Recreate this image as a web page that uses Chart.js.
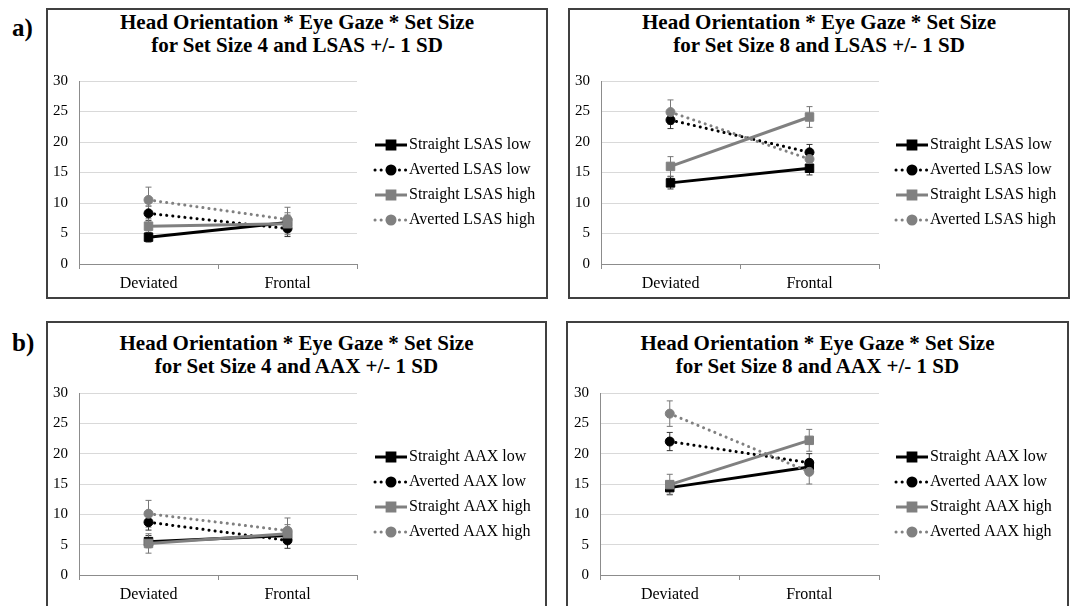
<!DOCTYPE html>
<html>
<head>
<meta charset="utf-8">
<script src="https://cdn.jsdelivr.net/npm/chart.js@4.4.1/dist/chart.umd.min.js"></script>
<style>
  html, body { margin: 0; padding: 0; background: #fff; width: 1073px; height: 606px; overflow: hidden; }
  .box { position: absolute; border: 2px solid #404040; box-sizing: border-box; }
  .box canvas { position: absolute; left: 0; top: 0; }
  .title { position: absolute; left: 0; width: 100%; text-align: center; font: bold 21px "Liberation Serif", serif; line-height: 23px; color: #000; }
  .tag { position: absolute; left: 12px; font: bold 25px "Liberation Serif", serif; line-height: 25px; color: #000; }
</style>
</head>
<body>
<div class="tag" style="top:15px">a)</div>
<div class="tag" style="top:330px">b)</div>

<div class="box" style="left:46px;top:8px;width:502px;height:291px">
  <div class="title" style="top:1px">Head Orientation * Eye Gaze * Set Size<br>for Set Size 4 and LSAS +/- 1 SD</div>
  <canvas id="c1"></canvas>
</div>
<div class="box" style="left:568px;top:8px;width:502px;height:291px">
  <div class="title" style="top:1px">Head Orientation * Eye Gaze * Set Size<br>for Set Size 8 and LSAS +/- 1 SD</div>
  <canvas id="c2"></canvas>
</div>
<div class="box" style="left:46px;top:321px;width:501px;height:300px">
  <div class="title" style="top:9px">Head Orientation * Eye Gaze * Set Size<br>for Set Size 4 and AAX +/- 1 SD</div>
  <canvas id="c3"></canvas>
</div>
<div class="box" style="left:566px;top:321px;width:503px;height:300px">
  <div class="title" style="top:9px">Head Orientation * Eye Gaze * Set Size<br>for Set Size 8 and AAX +/- 1 SD</div>
  <canvas id="c4"></canvas>
</div>

<script>
const categories = ['Deviated', 'Frontal'];
const seriesGaze = ['Straight', 'Averted', 'Straight', 'Averted'];
const seriesLevel = ['low', 'low', 'high', 'high'];
const seriesColors = ['#000000', '#000000', '#808080', '#808080'];
const yMin = 0, yMax = 30, yStep = 5;

// means per series: [Deviated, Frontal]
const lsas4Means = [[4.4, 6.8], [8.3, 5.8], [6.2, 6.6], [10.5, 7.3]];
const lsas4Errors = [[0.8, 1.2], [1.2, 1.3], [1.2, 1.8], [2.1, 2.0]];

const lsas8Means = [[13.3, 15.7], [23.6, 18.3], [16.0, 24.1], [24.9, 17.2]];
const lsas8Errors = [[1.0, 1.1], [1.4, 1.3], [1.6, 1.7], [2.0, 1.5]];

const aax4Means = [[5.5, 6.5], [8.7, 5.7], [5.2, 6.8], [10.1, 7.3]];
const aax4Errors = [[1.0, 1.0], [1.3, 1.3], [1.6, 1.5], [2.2, 2.1]];

const aax8Means = [[14.4, 17.8], [22.0, 18.5], [14.9, 22.2], [26.6, 17.0]];
const aax8Errors = [[1.1, 1.2], [1.5, 1.5], [1.7, 1.8], [2.1, 2.0]];

const serif = '"Liberation Serif", "Times New Roman", serif';

// error bars, drawn under the lines and markers
const errorBars = {
  id: 'errorBars',
  beforeDatasetsDraw(chart) {
    const ctx = chart.ctx;
    const y = chart.scales.y;
    chart.data.datasets.forEach((ds, i) => {
      const meta = chart.getDatasetMeta(i);
      meta.data.forEach((pt, j) => {
        const top = y.getPixelForValue(ds.data[j] + ds.errors[j]);
        const bot = y.getPixelForValue(ds.data[j] - ds.errors[j]);
        ctx.save();
        ctx.strokeStyle = ds.borderColor === '#000000' ? '#333' : '#777';
        ctx.lineWidth = 1;
        ctx.beginPath();
        ctx.moveTo(pt.x, top); ctx.lineTo(pt.x, bot);
        ctx.moveTo(pt.x - 3, top); ctx.lineTo(pt.x + 3, top);
        ctx.moveTo(pt.x - 3, bot); ctx.lineTo(pt.x + 3, bot);
        ctx.stroke();
        ctx.restore();
      });
    });
  }
};

// legend on the right side, like the Excel one
const sideLegend = {
  id: 'sideLegend',
  afterDraw(chart, args, opts) {
    const ctx = chart.ctx;
    chart.data.datasets.forEach((ds, i) => {
      const y = opts.top + i * opts.gap;
      const x0 = opts.left, x1 = opts.left + 32;
      ctx.save();
      ctx.strokeStyle = ds.borderColor;
      ctx.fillStyle = ds.borderColor;
      ctx.lineWidth = ds.borderWidth;
      ctx.lineCap = ds.borderCapStyle;
      ctx.setLineDash(ds.borderDash);
      ctx.beginPath();
      ctx.moveTo(x0, y); ctx.lineTo(x1, y);
      ctx.stroke();
      ctx.setLineDash([]);
      Chart.helpers.drawPoint(ctx, { pointStyle: ds.pointStyle, radius: ds.pointRadius - 0.5, rotation: 0, borderWidth: 1 }, (x0 + x1) / 2, y);
      ctx.fillStyle = '#000';
      ctx.font = '16px ' + serif;
      ctx.textBaseline = 'middle';
      ctx.fillText(ds.label, x1 + 2, y);
      ctx.restore();
    });
  }
};

function makeDatasets(measure, means, errors) {
  return means.map((m, i) => {
    const averted = seriesGaze[i] === 'Averted';
    return {
      label: seriesGaze[i] + ' ' + measure + ' ' + seriesLevel[i],
      data: m,
      errors: errors[i],
      borderColor: seriesColors[i],
      backgroundColor: seriesColors[i],
      pointBackgroundColor: seriesColors[i],
      pointBorderColor: seriesColors[i],
      borderWidth: 3,
      borderDash: averted ? [0.1, 6] : [],
      borderCapStyle: averted ? 'round' : 'butt',
      pointStyle: averted ? 'circle' : 'rect',
      pointRadius: averted ? 4.5 : 6,
      pointBorderWidth: 1,
      order: 3 - i
    };
  });
}

function makeChart(id, measure, means, errors, p) {
  const cv = document.getElementById(id);
  const box = cv.parentElement;
  const w = box.clientWidth, h = box.clientHeight;
  cv.width = w; cv.height = h;
  cv.style.width = w + 'px'; cv.style.height = h + 'px';
  return new Chart(cv, {
    type: 'line',
    data: { labels: categories, datasets: makeDatasets(measure, means, errors) },
    options: {
      responsive: false,
      animation: false,
      layout: { padding: { top: p.plotTop, right: w - p.plotRight, left: 0, bottom: 0 } },
      plugins: {
        legend: { display: false },
        title: { display: false },
        tooltip: { enabled: false },
        sideLegend: { left: p.legendLeft, top: p.legendTop, gap: 25 }
      },
      scales: {
        x: {
          offset: true,
          grid: { offset: true, drawOnChartArea: false, drawTicks: true, tickLength: 5, color: '#8c8c8c' },
          border: { color: '#8c8c8c' },
          ticks: { font: { family: serif, size: 16 }, color: '#000', padding: 5 },
          afterFit(s) { s.height = h - p.plotBottom; }
        },
        y: {
          min: yMin, max: yMax,
          ticks: { stepSize: yStep, font: { family: serif, size: 15 }, color: '#000', padding: 11 },
          grid: { color: '#d9d9d9', drawTicks: false },
          border: { color: '#8c8c8c' },
          afterFit(s) { s.width = p.plotLeft; }
        }
      }
    },
    plugins: [errorBars, sideLegend]
  });
}

makeChart('c1', 'LSAS', lsas4Means, lsas4Errors, { plotLeft: 31, plotRight: 309, plotTop: 71, plotBottom: 254, legendLeft: 327, legendTop: 135 });
makeChart('c2', 'LSAS', lsas8Means, lsas8Errors, { plotLeft: 31, plotRight: 309, plotTop: 71, plotBottom: 254, legendLeft: 326, legendTop: 135 });
makeChart('c3', 'AAX', aax4Means, aax4Errors, { plotLeft: 31, plotRight: 309, plotTop: 70, plotBottom: 252, legendLeft: 327, legendTop: 134 });
makeChart('c4', 'AAX', aax8Means, aax8Errors, { plotLeft: 32, plotRight: 311, plotTop: 70, plotBottom: 252, legendLeft: 328, legendTop: 134 });
</script>
</body>
</html>
